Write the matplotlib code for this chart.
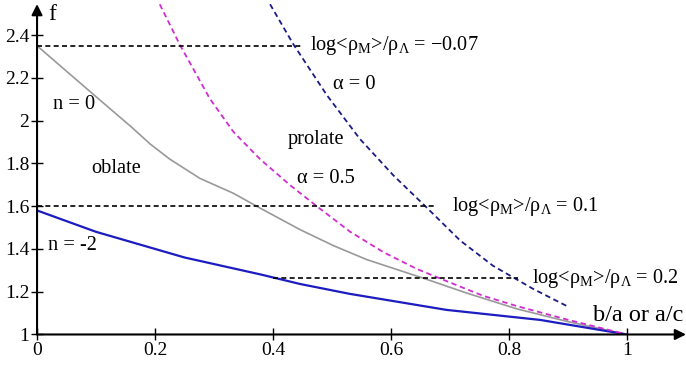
import numpy as np
from matplotlib import pyplot as plt

plt.rcParams["font.family"] = ["Liberation Serif", "DejaVu Serif"]
plt.rcParams["mathtext.fontset"] = "custom"
plt.rcParams["mathtext.rm"] = "Liberation Serif"
plt.rcParams["mathtext.it"] = "Liberation Serif:italic"

# curves (x = b/a or a/c, f)
x_n0 = [0, 0.105, 0.16, 0.192, 0.225, 0.276, 0.333, 0.372, 0.446, 0.502,
        0.559, 0.655, 0.728, 0.813, 0.9, 1.0]
f_n0 = [2.35, 2.10, 1.97, 1.89, 1.82, 1.73, 1.66, 1.60, 1.49, 1.416,
        1.35, 1.263, 1.194, 1.12, 1.06, 1.0]

x_nm2 = [0, 0.1, 0.2, 0.25, 0.38, 0.446, 0.53, 0.694, 0.853, 1.0]
f_nm2 = [1.58, 1.48, 1.40, 1.36, 1.28, 1.236, 1.19, 1.115, 1.068, 1.0]

x_a05 = [0.208, 0.242, 0.265, 0.293, 0.333, 0.378, 0.429, 0.474, 0.531,
         0.587, 0.644, 0.7, 0.756, 0.813, 0.898, 1.0]
f_a05 = [2.544, 2.355, 2.241, 2.102, 1.947, 1.82, 1.698, 1.60, 1.48,
         1.385, 1.306, 1.243, 1.181, 1.133, 1.07, 1.0]

x_a0 = [0.395, 0.434, 0.491, 0.547, 0.604, 0.661, 0.717, 0.773, 0.841, 0.898]
f_a0 = [2.544, 2.359, 2.12, 1.915, 1.744, 1.592, 1.44, 1.321, 1.213, 1.133]

# horizontal dashed levels of log<rho_M>/rho_Lambda
h_level = [2.35, 1.60, 1.263]
h_start = [0, 0, 0.40]
h_end = [0.45, 0.678, 0.815]
h_text_x = [0.463, 0.703, 0.839]
h_value = ["\u22120.07", "0.1", "0.2"]

xticks = [0, 0.2, 0.4, 0.6, 0.8, 1]
xtick_labels = ["0", "0.2", "0.4", "0.6", "0.8", "1"]
yticks = [1, 1.2, 1.4, 1.6, 1.8, 2, 2.2, 2.4]
ytick_labels = ["1", "1.2", "1.4", "1.6", "1.8", "2", "2.2", "2.4"]

fig = plt.figure(figsize=(6.86, 3.70), dpi=100)
ax = fig.add_axes([0.054, 0.096, 0.946, 0.893])
ax.set_xlim(0, 1.1)
ax.set_ylim(1, 2.545)

for s in ax.spines.values():
    s.set_visible(False)

# axes with arrows
arrow = dict(arrowstyle="-|>", color="black", lw=1.5, mutation_scale=16,
             shrinkA=0, shrinkB=0)
ax.annotate("", xy=(1.1, 1), xytext=(0, 1), arrowprops=arrow, annotation_clip=False)
ax.annotate("", xy=(0, 2.545), xytext=(0, 1), arrowprops=arrow, annotation_clip=False)

ax.set_xticks(xticks)
ax.set_xticklabels(xtick_labels)
ax.set_yticks(yticks)
ax.set_yticklabels(ytick_labels)
ax.tick_params(direction="inout", length=9, width=1, labelsize=14, pad=1)

# curves
ax.plot(x_n0, f_n0, color="#999999", lw=1.2)
ax.plot(x_nm2, f_nm2, color="#1c1cc0", lw=1.6)
ax.plot(x_a05, f_a05, color="#d02cd0", lw=1.3, ls=(0, (3, 2)))
ax.plot(x_a0, f_a0, color="#1a1a88", lw=1.3, ls=(0, (3, 2)))

for lev, x0, x1, tx, val in zip(h_level, h_start, h_end, h_text_x, h_value):
    ax.plot([x0, x1], [lev, lev], color="black", lw=1.2, ls=(0, (3, 2)))
    ax.text(tx, lev, r"log<$\mathrm{\rho_{M}}$>/$\mathrm{\rho_{\Lambda}}$ = " + val,
            fontsize=14.6, va="center", ha="left")

# labels
ax.text(0.019, 2.495, "f", fontsize=17, va="center", ha="left")
ax.text(0.063, 2.074, "n = 0", fontsize=14.7, va="center", ha="center")
ax.text(0.134, 1.774, "oblate", fontsize=14.7, va="center", ha="center")
ax.text(0.06, 1.414, "n = -2", fontsize=14.7, va="center", ha="center")
ax.text(0.473, 1.91, "prolate", fontsize=14.7, va="center", ha="center")
ax.text(0.537, 2.17, "\u03b1 = 0", fontsize=14.7, va="center", ha="center")
ax.text(0.49, 1.729, "\u03b1 = 0.5", fontsize=14.7, va="center", ha="center")
ax.text(0.942, 1.087, "b/a or a/c", fontsize=17.5, va="center", ha="left")

fig.savefig("out.png", dpi=100)
